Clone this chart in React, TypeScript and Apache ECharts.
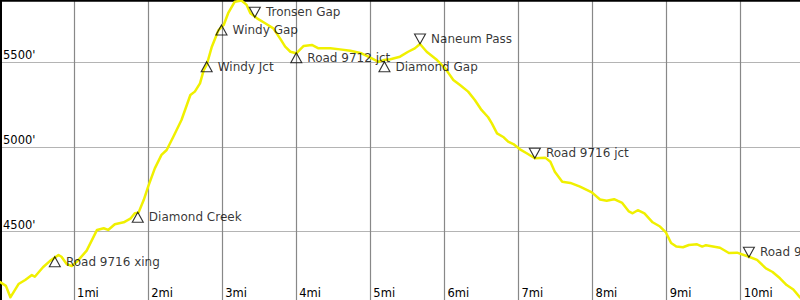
import React, { useEffect, useRef } from "react";
import * as echarts from "echarts";

// Elevation profile (distance in miles, elevation in feet)
const distanceMi = [
  0.0, 0.08, 0.14, 0.25, 0.34, 0.43, 0.47, 0.58, 0.68, 0.79,
  0.83, 0.9, 0.97, 1.04, 1.17, 1.31, 1.4, 1.46, 1.55, 1.67,
  1.76, 1.82, 1.87, 1.94, 2.0, 2.09, 2.18, 2.25, 2.34, 2.45,
  2.57, 2.63, 2.7, 2.75, 2.79, 2.86, 2.95, 3.02, 3.08, 3.17,
  3.26, 3.33, 3.38, 3.47, 3.58, 3.69, 3.78, 3.85, 3.92, 4.0,
  4.1, 4.21, 4.3, 4.46, 4.59, 4.73, 4.88, 5.02, 5.11, 5.18,
  5.27, 5.4, 5.51, 5.6, 5.67, 5.76, 5.9, 6.01, 6.12, 6.21,
  6.32, 6.41, 6.5, 6.59, 6.64, 6.71, 6.8, 6.86, 6.93, 7.02,
  7.11, 7.22, 7.36, 7.43, 7.49, 7.59, 7.7, 7.83, 7.99, 8.1,
  8.19, 8.29, 8.4, 8.49, 8.54, 8.61, 8.7, 8.81, 8.91, 8.99,
  9.06, 9.13, 9.22, 9.3, 9.41, 9.48, 9.53, 9.72, 9.84, 9.95,
  10.11, 10.22, 10.34, 10.43, 10.53, 10.62, 10.71, 10.8,
];
const elevationFt = [
  4203, 4180, 4113, 4191, 4215, 4244, 4234, 4290, 4329, 4362,
  4352, 4309, 4297, 4323, 4388, 4510, 4520, 4510, 4543, 4555,
  4576, 4608, 4612, 4686, 4765, 4873, 4952, 4981, 5059, 5158,
  5305, 5325, 5374, 5452, 5482, 5590, 5688, 5718, 5787, 5855,
  5862, 5836, 5787, 5757, 5728, 5698, 5639, 5590, 5560, 5551,
  5594, 5600, 5580, 5580, 5574, 5566, 5551, 5521, 5501, 5511,
  5516, 5531, 5560, 5580, 5606, 5560, 5511, 5462, 5394, 5364,
  5325, 5276, 5217, 5174, 5138, 5079, 5056, 5030, 5016, 4985,
  4962, 4932, 4936, 4912, 4853, 4794, 4787, 4765, 4731, 4689,
  4682, 4691, 4669, 4619, 4608, 4626, 4607, 4555, 4530, 4495,
  4433, 4412, 4408, 4421, 4425, 4412, 4420, 4405, 4374, 4376,
  4352, 4333, 4283, 4262, 4225, 4185, 4159, 4112,
];

// Waypoints
const waypointNames = [
  "Road 9716 xing", "Diamond Creek", "Windy Jct", "Windy Gap", "Tronsen Gap",
  "Road 9712 jct", "Diamond Gap", "Naneum Pass", "Road 9716 jct", "Road 9716",
];
const waypointMi = [0.74, 1.86, 2.79, 2.99, 3.44, 4.0, 5.19, 5.67, 7.22, 10.11];
const waypointFt = [4352, 4614, 5501, 5718, 5763, 5554, 5501, 5606, 4932, 4349];
const waypointUp = [true, true, true, true, false, true, true, false, false, false];

const xMin = 0;
const xMax = 10.8;
const yMin = 4097;
const yMax = 5865;

const FONT = "DejaVu Sans";

export default function App() {
  const ref = useRef<HTMLDivElement>(null);

  useEffect(() => {
    if (!ref.current) return;
    const chart = echarts.init(ref.current, undefined, { renderer: "svg" });

    const lineData = distanceMi.map((d, i) => [d, elevationFt[i]]);
    const ups: any[] = [];
    const downs: any[] = [];
    waypointNames.forEach((n, i) => {
      const item = { name: n, value: [waypointMi[i], waypointFt[i]] };
      (waypointUp[i] ? ups : downs).push(item);
    });

    const markerLabel = {
      show: true,
      position: "right",
      distance: 5,
      formatter: (p: any) => p.name,
      color: "#000",
      fontFamily: FONT,
      fontSize: 12,
    };
    const markerStyle = {
      color: "rgba(0,0,0,0)",
      borderColor: "#000",
      borderWidth: 1.1,
    };

    chart.setOption({
      animation: false,
      backgroundColor: "#fff",
      grid: { left: 0, right: 0, top: 0, bottom: 0 },
      xAxis: [
        {
          type: "value",
          min: xMin,
          max: xMax,
          interval: 1,
          axisLine: { show: false },
          axisTick: { show: false },
          axisLabel: {
            inside: true,
            align: "left",
            verticalAlign: "bottom",
            margin: 1,
            padding: [0, 0, 0, 3],
            color: "#000",
            fontFamily: FONT,
            fontSize: 11.5,
            showMinLabel: false,
            showMaxLabel: false,
            formatter: (v: number) =>
              v > 0 && Math.abs(v - Math.round(v)) < 1e-6 ? `${Math.round(v)}mi` : "",
          },
          splitLine: {
            show: true,
            showMinLine: false,
            showMaxLine: false,
            lineStyle: { color: "#888", width: 1.2 },
          },
        },
        {
          type: "value",
          position: "top",
          min: xMin,
          max: xMax,
          axisLine: { show: true, onZero: false, lineStyle: { color: "#000", width: 2.5 } },
          axisTick: { show: false },
          axisLabel: { show: false },
          splitLine: { show: false },
        },
      ],
      yAxis: {
        type: "value",
        min: yMin,
        max: yMax,
        splitNumber: 3,
        axisLine: { show: true, onZero: false, lineStyle: { color: "#000", width: 4 } },
        axisTick: { show: false },
        axisLabel: {
          inside: true,
          align: "left",
          verticalAlign: "bottom",
          margin: 3,
          padding: [0, 0, 1, 0],
          color: "#000",
          fontFamily: FONT,
          fontSize: 11.5,
          showMinLabel: false,
          showMaxLabel: false,
          formatter: (v: number) => (v % 500 === 0 ? `${v}'` : ""),
        },
        splitLine: {
          show: true,
          showMinLine: false,
          showMaxLine: false,
          lineStyle: { color: "#b4b4b4", width: 1 },
        },
      },
      series: [
        {
          type: "line",
          data: lineData,
          showSymbol: false,
          symbol: "none",
          clip: false,
          z: 2,
          lineStyle: { color: "#f0f000", width: 2.5, join: "round", cap: "round" },
        },
        {
          type: "scatter",
          data: ups,
          symbol: "path://M5,0 L10,9 L0,9 Z",
          symbolSize: [11, 10],
          symbolOffset: [0, 5],
          clip: false,
          z: 3,
          itemStyle: markerStyle,
          label: markerLabel,
        },
        {
          type: "scatter",
          data: downs,
          symbol: "path://M0,0 L10,0 L5,9 Z",
          symbolSize: [11, 10],
          symbolOffset: [0, -5],
          clip: false,
          z: 3,
          itemStyle: markerStyle,
          label: markerLabel,
        },
      ],
    });

    return () => chart.dispose();
  }, []);

  return (
    <div
      ref={ref}
      style={{ position: "fixed", left: 0, top: 0, width: 800, height: 300 }}
    />
  );
}
